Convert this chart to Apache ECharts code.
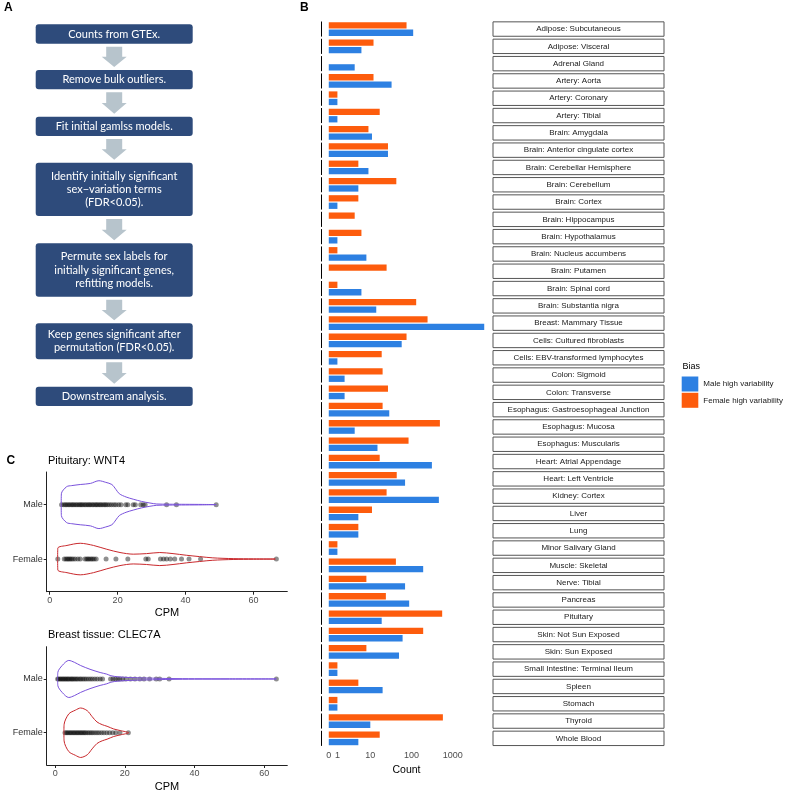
<!DOCTYPE html>
<html><head><meta charset="utf-8">
<script src="https://cdn.jsdelivr.net/npm/echarts@6/dist/echarts.min.js"></script>
<style>html,body{margin:0;padding:0;background:#fff}#c{width:793px;height:793px}</style>
</head><body><div id="c"></div>
<script>
// ---------- Panel A: workflow steps ----------
const steps = [
  'Counts from GTEx.',
  'Remove bulk outliers.',
  'Fit initial gamlss models.',
  'Identify initially significant\nsex\u2212variation terms\n(FDR<0.05).',
  'Permute sex labels for\ninitially significant genes,\nrefitting models.',
  'Keep genes significant after\npermutation (FDR<0.05).',
  'Downstream analysis.'
];

// ---------- Panel B: counts per tissue ----------
const tissues = ['Adipose: Subcutaneous','Adipose: Visceral','Adrenal Gland','Artery: Aorta','Artery: Coronary','Artery: Tibial','Brain: Amygdala','Brain: Anterior cingulate cortex','Brain: Cerebellar Hemisphere','Brain: Cerebellum','Brain: Cortex','Brain: Hippocampus','Brain: Hypothalamus','Brain: Nucleus accumbens','Brain: Putamen','Brain: Spinal cord','Brain: Substantia nigra','Breast: Mammary Tissue','Cells: Cultured fibroblasts','Cells: EBV-transformed lymphocytes','Colon: Sigmoid','Colon: Transverse','Esophagus: Gastroesophageal Junction','Esophagus: Mucosa','Esophagus: Muscularis','Heart: Atrial Appendage','Heart: Left Ventricle','Kidney: Cortex','Liver','Lung','Minor Salivary Gland','Muscle: Skeletal','Nerve: Tibial','Pancreas','Pituitary','Skin: Not Sun Exposed','Skin: Sun Exposed','Small Intestine: Terminal Ileum','Spleen','Stomach','Thyroid','Whole Blood'];
const femaleCounts = [76,12,0,12,1,17,9,27,5,43,5,4,6,1,25,1,130,245,76,19,20,27,20,487,85,17,44,25,11,5,1,42,8,24,553,192,8,1,5,1,575,17];
const maleCounts   = [110,6,4,33,1,1,11,27,9,5,1,0,1,8,0,6,14,5750,58,1,2,2,29,4,15,312,70,460,5,5,1,192,70,88,19,61,50,1,20,1,10,5];
const countTicks = [0,1,10,100,1000];
const countTickLabels = ['0','1','10','100','1000'];
const seriesNames = ['Male high variability','Female high variability'];

// ---------- Panel C: violin profiles [CPM, half width] and points (CPM) ----------
const cpmTicks = [0,20,40,60];
const sexLabels = ['Female','Male'];
const wnt4MaleProfile = [[3.4,0],[3.45,0.2],[5,0.33],[6.5,0.35],[9,0.37],[12,0.39],[14.5,0.44],[16.5,0.41],[18.3,0.37],[19.5,0.28],[20.5,0.2],[22.5,0.14],[24.6,0.1],[27,0.06],[29.5,0.03],[31.5,0.012],[35,0.008],[40,0.006],[45,0.004],[49,0]];
const wnt4FemaleProfile = [[2.35,0],[2.4,0.2],[5.1,0.25],[9,0.29],[12.9,0.25],[16.8,0.18],[20.7,0.12],[24.6,0.09],[28.5,0.1],[32.4,0.12],[36.3,0.1],[40.2,0.07],[44.1,0.045],[48,0.022],[54,0.008],[60,0.004],[66.4,0]];
const clec7aMaleProfile = [[0.7,0],[0.75,0.12],[2,0.25],[3.9,0.345],[5.5,0.31],[7.3,0.25],[10,0.18],[12.9,0.12],[14.8,0.09],[16,0.06],[18,0.04],[22,0.025],[28,0.015],[33,0.008],[40,0.004],[50,0.003],[63.5,0]];
const clec7aFemaleProfile = [[2.5,0],[2.55,0.15],[3.9,0.35],[5.8,0.42],[7.3,0.46],[9.2,0.41],[10.6,0.3],[12,0.2],[13.5,0.15],[14.9,0.12],[16.8,0.07],[18.7,0.04],[21.1,0]];
const wnt4MalePoints = [3.5,4.1,4.6,5.0,5.5,5.9,6.4,6.8,7.2,7.7,8.1,8.6,9.0,9.4,9.8,10.3,10.7,11.2,11.6,12.0,12.5,12.9,13.4,13.8,14.2,14.7,15.1,15.6,16.1,16.5,17.0,17.6,18.2,18.9,19.5,20.3,21.0,22.4,23.0,24.6,25.2,26.8,27.5,28.1,34.4,37.3,49.0];
const wnt4FemalePoints = [2.4,4.3,4.8,5.2,5.6,6.0,6.4,6.9,7.5,8.3,9.0,10.4,10.9,11.3,11.7,12.2,12.6,13.1,13.7,16.6,19.5,23.0,28.3,29.0,32.6,33.5,34.4,35.5,36.8,38.8,41.0,44.4,66.7];
const clec7aMalePoints = [0.7,1.0,1.4,1.7,2.1,2.4,2.8,3.1,3.5,3.8,4.2,4.6,4.9,5.3,5.7,6.1,6.5,7.0,7.4,7.9,8.4,8.9,9.5,10.1,10.7,11.4,12.1,12.9,13.6,15.9,16.6,17.3,18.0,18.6,19.4,20.3,21.6,22.9,24.3,25.5,27.1,29.0,30.0,32.7,63.5];
const clec7aFemalePoints = [2.8,3.2,3.6,4.0,4.4,4.8,5.2,5.6,6.0,6.4,6.8,7.2,7.6,8.0,8.4,8.8,9.3,9.8,10.3,10.8,11.4,12.0,12.6,13.3,14.0,14.8,15.6,16.5,17.4,18.6,21.0];

// ---------- build ----------
const FONT = 'Liberation Sans, Arial, sans-serif';
const pl = v => Math.asinh(v / 2) / Math.LN10;   // pseudo-log scale
const femaleT = femaleCounts.map(pl), maleT = maleCounts.map(pl);
const maxT = Math.max(...femaleT, ...maleT);
const tickT = countTicks.map(pl);

function violinLine(profile, pos) {
  const up = profile.map(p => [p[0], pos + p[1]]);
  const lo = profile.slice().reverse().map(p => [p[0], pos - p[1]]);
  return up.concat(lo, [up[0]]);
}
function range(arrs) {
  const all = [].concat(...arrs);
  const mn = Math.min(...all), mx = Math.max(...all);
  const pad = 0.05 * (mx - mn);
  return [mn - pad, mx + pad];
}
const r1 = range([wnt4MalePoints, wnt4FemalePoints, wnt4MaleProfile.map(p=>p[0]), wnt4FemaleProfile.map(p=>p[0])]);
const r2 = range([clec7aMalePoints, clec7aFemalePoints, clec7aMaleProfile.map(p=>p[0]), clec7aFemaleProfile.map(p=>p[0])]);

// Panel A graphics
const boxY = [24.3, 70, 116.7, 162.7, 243.3, 323.3, 386.7];
const boxH = [19.4, 19.3, 19.3, 53.3, 53.4, 36, 19.3];
const boxX = 35.7, boxW = 157, cx = boxX + boxW / 2;
const gA = [];
steps.forEach((s, i) => {
  gA.push({type:'rect', shape:{x:boxX, y:boxY[i], width:boxW, height:boxH[i], r:3}, style:{fill:'#2e4b7b'}, silent:true});
  gA.push({type:'text', style:{x:cx, y:boxY[i] + boxH[i] / 2, text:s, fill:'#fff', font:'11px Lato, sans-serif', align:'center', verticalAlign:'middle', textAlign:'center', textVerticalAlign:'middle', lineHeight:13.3}, silent:true});
  if (i < steps.length - 1) {
    const y0 = boxY[i] + boxH[i] + 3, y1 = boxY[i + 1] - 3, ym = (y0 + y1) / 2;
    gA.push({type:'polygon', shape:{points:[[cx-8,y0],[cx+8,y0],[cx+8,ym],[cx+12.5,ym],[cx,y1],[cx-12.5,ym],[cx-8,ym]]}, style:{fill:'#b7c4cc'}, silent:true});
  }
});
const labelTxt = (t, x, y, size, weight, align) => ({type:'text', style:{x, y, text:t, fill:'#000', font:(weight||'normal') + ' ' + size + 'px ' + FONT, align:align||'left', textAlign:align||'left', verticalAlign:'middle', textVerticalAlign:'middle'}, silent:true});
gA.push(labelTxt('A', 4, 8, 12, 'bold'));
gA.push(labelTxt('B', 300, 8, 12, 'bold'));
gA.push(labelTxt('C', 6.5, 460.5, 12, 'bold'));
gA.push(labelTxt('Pituitary: WNT4', 48, 460.5, 11));
gA.push(labelTxt('Breast tissue: CLEC7A', 48, 635, 11));
gA.push(labelTxt('Bias', 682.5, 367, 9));

const pointStyle = {color:'rgba(0,0,0,0.55)'};
const cXAxis = (gi, r) => ({gridIndex:gi, type:'value', min:r[0], max:r[1],
  axisLine:{onZero:false, lineStyle:{color:'#222', width:1}}, axisTick:{customValues:cpmTicks, length:3, lineStyle:{color:'#222'}},
  axisLabel:{customValues:cpmTicks, fontSize:9, color:'#4d4d4d', margin:4, fontFamily:FONT}, splitLine:{show:false},
  name:'CPM', nameLocation:'middle', nameGap:16, nameTextStyle:{fontSize:11, color:'#000', fontFamily:FONT}});
const cYAxis = gi => ({gridIndex:gi, type:'value', min:0.4, max:2.6,
  axisLine:{onZero:false, lineStyle:{color:'#222', width:1}}, axisTick:{customValues:[1,2], length:3, lineStyle:{color:'#222'}},
  axisLabel:{customValues:[1,2], formatter:v => sexLabels[Math.round(v) - 1], fontSize:9, color:'#333', margin:4, fontFamily:FONT}, splitLine:{show:false}});

const option = {
  animation:false,
  backgroundColor:'#fff',
  textStyle:{fontFamily:FONT},
  graphic:{elements:gA},
  legend:{data:seriesNames, orient:'vertical', left:681.7, top:376.5, itemWidth:16.6, itemHeight:15, itemGap:1.3, icon:'rect', padding:0, selectedMode:false, textStyle:{fontSize:8, color:'#1a1a1a', fontFamily:FONT}},
  grid:[
    {left:321, top:20.4, width:171, height:726.6},
    {left:46.7, top:472, width:240.6, height:119.7},
    {left:46.7, top:646.7, width:240.6, height:120}
  ],
  xAxis:[
    {gridIndex:0, type:'value', min:-0.05*maxT, max:1.05*maxT,
     axisLine:{onZero:false, lineStyle:{color:'#000', width:1}}, axisTick:{customValues:tickT, length:3, lineStyle:{color:'#333'}},
     axisLabel:{customValues:tickT, formatter:v => countTickLabels[tickT.findIndex(t => Math.abs(t - v) < 1e-6)], fontSize:9, color:'#4d4d4d', margin:4, fontFamily:FONT},
     splitLine:{show:false}, name:'Count', nameLocation:'middle', nameGap:17, nameTextStyle:{fontSize:10.5, color:'#000', fontFamily:FONT}},
    cXAxis(1, r1), cXAxis(2, r2)
  ],
  yAxis:[
    {gridIndex:0, type:'category', data:tissues, inverse:true,
     axisLine:{onZero:false, lineStyle:{color:'#000', width:1, type:[14.3, 3], dashOffset:15.8}}, axisTick:{show:false}, axisLabel:{show:false}},
    {gridIndex:0, type:'category', data:tissues, inverse:true, position:'right',
     axisLine:{show:false, onZero:false}, axisTick:{show:false},
     axisLabel:{interval:0, margin:86.5, align:'center', width:165, lineHeight:12.4, padding:[1,3], borderColor:'#555', borderWidth:1, fontSize:8, color:'#1a1a1a', fontFamily:FONT}},
    cYAxis(1), cYAxis(2)
  ],
  series:[
    {type:'bar', name:seriesNames[1], xAxisIndex:0, yAxisIndex:0, data:femaleT, barWidth:6.3, barGap:'18%', itemStyle:{color:'#fd5c0d'}, silent:true},
    {type:'bar', name:seriesNames[0], xAxisIndex:0, yAxisIndex:0, data:maleT, barWidth:6.3, itemStyle:{color:'#2d80e2'}, silent:true},

    {type:'scatter', xAxisIndex:1, yAxisIndex:2, data:wnt4MalePoints.map(v => [v, 2]), symbolSize:5, itemStyle:pointStyle, silent:true},
    {type:'scatter', xAxisIndex:1, yAxisIndex:2, data:wnt4FemalePoints.map(v => [v, 1]), symbolSize:5, itemStyle:pointStyle, silent:true},
    {type:'line', xAxisIndex:1, yAxisIndex:2, data:violinLine(wnt4MaleProfile, 2), smooth:0.3, showSymbol:false, lineStyle:{color:'#7a52dc', width:1}, silent:true},
    {type:'line', xAxisIndex:1, yAxisIndex:2, data:violinLine(wnt4FemaleProfile, 1), smooth:0.3, showSymbol:false, lineStyle:{color:'#c9282c', width:1}, silent:true},

    {type:'scatter', xAxisIndex:2, yAxisIndex:3, data:clec7aMalePoints.map(v => [v, 2]), symbolSize:5, itemStyle:pointStyle, silent:true},
    {type:'scatter', xAxisIndex:2, yAxisIndex:3, data:clec7aFemalePoints.map(v => [v, 1]), symbolSize:5, itemStyle:pointStyle, silent:true},
    {type:'line', xAxisIndex:2, yAxisIndex:3, data:violinLine(clec7aMaleProfile, 2), smooth:0.3, showSymbol:false, lineStyle:{color:'#7a52dc', width:1}, silent:true},
    {type:'line', xAxisIndex:2, yAxisIndex:3, data:violinLine(clec7aFemaleProfile, 1), smooth:0.3, showSymbol:false, lineStyle:{color:'#c9282c', width:1}, silent:true}
  ]
};
const chart = echarts.init(document.getElementById('c'), null, {renderer:'canvas', width:793, height:793});
chart.setOption(option);
</script>
</body></html>
